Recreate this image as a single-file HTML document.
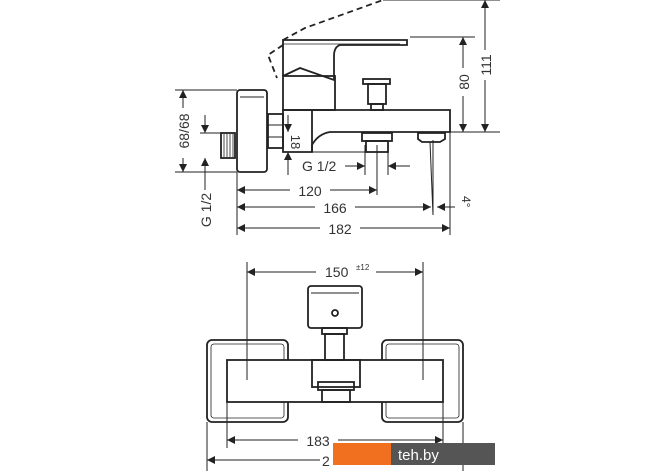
<!DOCTYPE html>
<html><head><style>
html,body{margin:0;padding:0;background:#fff;}
svg{display:block}
text{font-family:"Liberation Sans",sans-serif;fill:#333;}
</style></head><body>
<svg width="670" height="471" viewBox="0 0 670 471" xmlns="http://www.w3.org/2000/svg">
<defs>
<marker id="a" viewBox="0 0 10 10" refX="10" refY="5" markerWidth="10" markerHeight="8" orient="auto-start-reverse" markerUnits="userSpaceOnUse"><path d="M0,0 L10,5 L0,10 z" fill="#222"/></marker>
</defs>
<g stroke="#222" fill="none" stroke-width="1.8">
<!-- wall block -->
<rect x="237" y="90" width="30" height="82" rx="3"/>
<line x1="240" y1="97" x2="264" y2="97" stroke-width="1"/>
<rect x="268" y="114" width="15" height="34"/>
<line x1="268" y1="125" x2="283" y2="125" stroke-width="1"/>
<line x1="268" y1="137" x2="283" y2="137" stroke-width="1"/>
<rect x="221" y="133" width="14" height="25"/>
<g stroke-width="0.8"><line x1="224" y1="134" x2="224" y2="157"/><line x1="227" y1="134" x2="227" y2="157"/><line x1="230" y1="134" x2="230" y2="157"/><line x1="233" y1="134" x2="233" y2="157"/></g>
<!-- spout body -->
<path d="M283 110 L450 110 L450 132 L330 132 Q318 134 312 145 L312 152 L283 152 Z"/>
<line x1="312" y1="110" x2="312" y2="152"/>
<!-- valve column -->
<rect x="283" y="76" width="52" height="34"/>
<!-- lever -->
<path d="M283 76 L283 40 L407 40 L407 45 L340 45 Q334 47 334 56 L334 80 L300 68 L283 76"/>
<line x1="283" y1="44" x2="400" y2="44" stroke-width="0.8"/>
<!-- dashed lever -->
<path d="M283 45 L268 55 L277 78 M283 40 L305 28 L383 0" stroke-dasharray="6,4"/>
<!-- diverter -->
<rect x="363" y="79" width="27" height="5"/>
<rect x="368" y="84" width="18" height="20"/>
<rect x="371" y="104" width="12" height="6"/>
<!-- outlet -->
<rect x="362" y="133" width="30" height="8"/>
<rect x="366" y="141" width="22" height="11"/>
<path d="M418 133 L445 133 L445 139 L440 142 L422 142 L418 139 Z"/>
</g>
<!-- dimension lines top -->
<g stroke="#222" stroke-width="1" fill="none">
<line x1="383" y1="0" x2="500" y2="0"/>
<line x1="410" y1="37" x2="475" y2="37"/>
<line x1="450" y1="132" x2="500" y2="132"/>
<line x1="463" y1="37" x2="463" y2="132" marker-start="url(#a)" marker-end="url(#a)"/>
<line x1="485" y1="0" x2="485" y2="132" marker-start="url(#a)" marker-end="url(#a)"/>
<line x1="175" y1="90" x2="237" y2="90"/>
<line x1="175" y1="172" x2="237" y2="172"/>
<line x1="183" y1="90" x2="183" y2="172" marker-start="url(#a)" marker-end="url(#a)"/>
<line x1="200" y1="133" x2="221" y2="133"/>
<line x1="205" y1="115" x2="205" y2="133" marker-end="url(#a)"/>
<line x1="205" y1="190" x2="205" y2="158" marker-end="url(#a)"/>
<line x1="288" y1="152" x2="370" y2="152"/>
<line x1="288" y1="115" x2="288" y2="132" marker-end="url(#a)"/>
<line x1="288" y1="175" x2="288" y2="152" marker-end="url(#a)"/>
<line x1="237" y1="172" x2="237" y2="235"/>
<line x1="365" y1="145" x2="365" y2="175"/><line x1="377" y1="145" x2="377" y2="195"/>
<line x1="388" y1="152" x2="388" y2="175"/>
<line x1="345" y1="166" x2="365" y2="166" marker-end="url(#a)"/>
<line x1="410" y1="166" x2="388" y2="166" marker-end="url(#a)"/>
<line x1="237" y1="190" x2="377" y2="190" marker-start="url(#a)" marker-end="url(#a)"/>
<line x1="433" y1="140" x2="433" y2="215"/><line x1="430" y1="142" x2="433" y2="215"/>
<line x1="450" y1="132" x2="450" y2="235"/>
<line x1="237" y1="207" x2="431" y2="207" marker-start="url(#a)" marker-end="url(#a)"/>
<line x1="455" y1="207" x2="437" y2="207" marker-end="url(#a)"/>
<line x1="237" y1="228" x2="450" y2="228" marker-start="url(#a)" marker-end="url(#a)"/>
</g>
<g font-size="14">
<rect x="455" y="68" width="16" height="28" fill="#fff"/>
<text transform="translate(469,82) rotate(-90)" text-anchor="middle">80</text>
<rect x="477" y="50" width="16" height="30" fill="#fff"/>
<text transform="translate(491,65) rotate(-90)" text-anchor="middle">111</text>
<rect x="175" y="108" width="16" height="50" fill="#fff"/>
<text transform="translate(189,131) rotate(-90)" text-anchor="middle">68/68</text>
<text transform="translate(211,210) rotate(-90)" text-anchor="middle">G 1/2</text>
<text transform="translate(291,142) rotate(90)" text-anchor="middle" font-size="13">18</text>
<text x="302" y="171">G 1/2</text>
<rect x="290" y="182" width="40" height="16" fill="#fff"/>
<text x="310" y="196" text-anchor="middle">120</text>
<rect x="315" y="199" width="40" height="16" fill="#fff"/>
<text x="335" y="213" text-anchor="middle">166</text>
<rect x="320" y="220" width="40" height="16" fill="#fff"/>
<text x="340" y="234" text-anchor="middle">182</text>
<text transform="translate(462,196) rotate(90)" font-size="12">4°</text>
</g>
<!-- bottom view -->
<g stroke="#222" fill="none" stroke-width="1.8">
<rect x="207" y="340" width="81" height="82" rx="5"/>
<rect x="211" y="344" width="73" height="74" rx="3" stroke-width="0.8"/>
<rect x="382" y="340" width="81" height="82" rx="5"/>
<rect x="386" y="344" width="73" height="74" rx="3" stroke-width="0.8"/>
<rect x="227" y="360" width="216" height="42" fill="#fff"/>
<rect x="308" y="286" width="54" height="42" rx="3" fill="#fff"/>
<line x1="311" y1="293" x2="359" y2="293" stroke-width="1"/>
<circle cx="335" cy="313" r="3"/>
<rect x="322" y="328" width="25" height="6"/>
<rect x="325" y="334" width="19" height="26"/>
<rect x="312" y="360" width="48" height="27"/>
<rect x="318" y="382" width="36" height="8"/>
<rect x="322" y="390" width="28" height="12"/>
</g>
<g stroke="#222" stroke-width="1" fill="none">
<line x1="247" y1="262" x2="247" y2="380"/>
<line x1="423" y1="262" x2="423" y2="380"/>
<line x1="247" y1="272" x2="423" y2="272" marker-start="url(#a)" marker-end="url(#a)"/>
<line x1="227" y1="402" x2="227" y2="448"/>
<line x1="443" y1="402" x2="443" y2="448"/>
<line x1="207" y1="422" x2="207" y2="471"/>
<line x1="463" y1="422" x2="463" y2="471"/>
<line x1="227" y1="440" x2="443" y2="440" marker-start="url(#a)" marker-end="url(#a)"/>
<line x1="207" y1="460" x2="463" y2="460" marker-start="url(#a)" marker-end="url(#a)"/>
</g>
<g font-size="14">
<rect x="316" y="263" width="60" height="16" fill="#fff"/>
<text x="325" y="277">150</text><text x="356" y="270" font-size="8">±12</text>
<rect x="298" y="432" width="40" height="16" fill="#fff"/>
<text x="318" y="446" text-anchor="middle">183</text>
<rect x="320" y="452" width="20" height="16" fill="#fff"/>
<text x="322" y="466">2</text>
</g>
<rect x="333" y="443" width="58" height="22" fill="#f07020"/>
<rect x="391" y="443" width="104" height="22" fill="#555"/>
<text x="398" y="460" font-size="15" fill="#fff" style="fill:#fff">teh.by</text>
</svg>
</body></html>
